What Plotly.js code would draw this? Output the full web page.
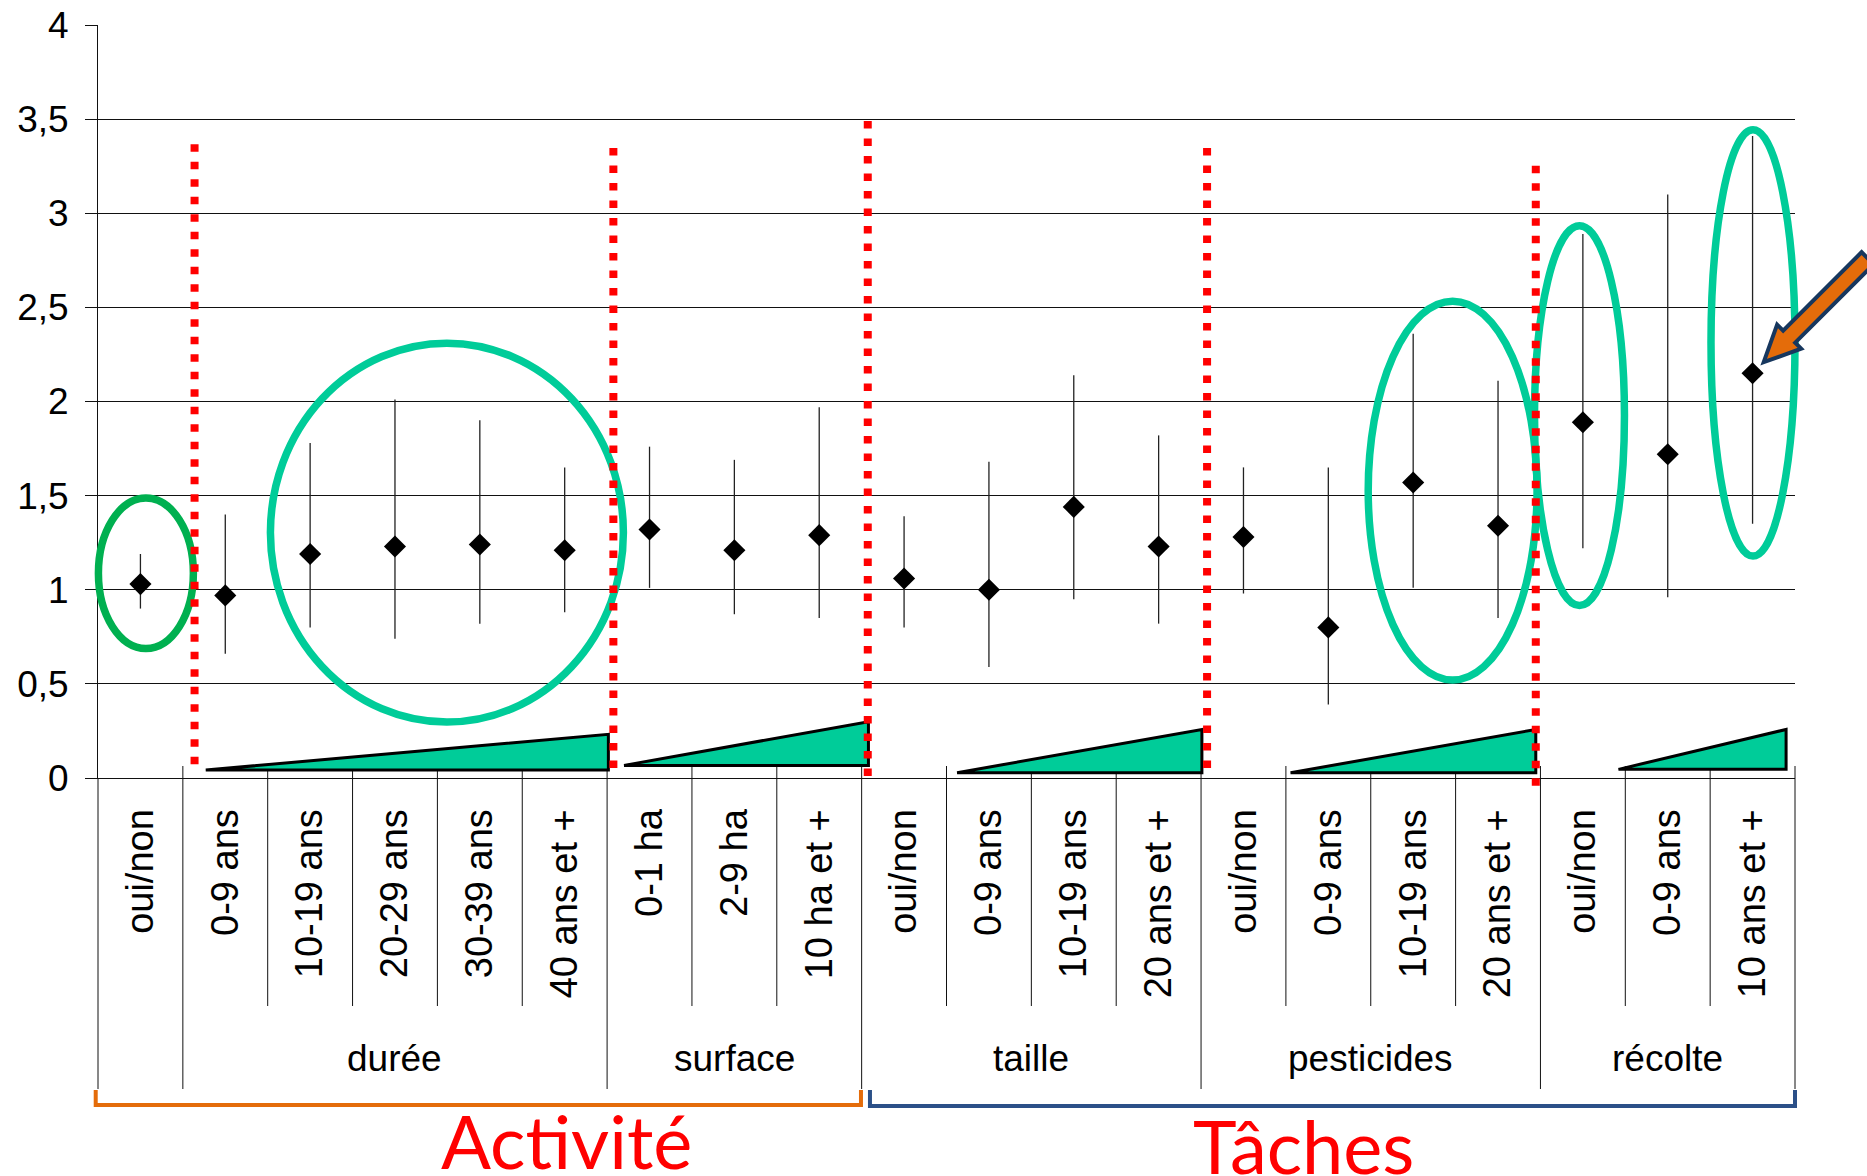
<!DOCTYPE html>
<html>
<head>
<meta charset="utf-8">
<script src="https://cdn.plot.ly/plotly-3.0.1.min.js"></script>
<style>html,body{margin:0;padding:0;background:#fff;}#chart{width:1867px;height:1176px;}</style>
</head>
<body>
<div id="chart"></div>
<script>
// ---- data ----
const categories = ['oui/non','0-9 ans','10-19 ans','20-29 ans','30-39 ans','40 ans et +',
  '0-1 ha','2-9 ha','10 ha et +',
  'oui/non','0-9 ans','10-19 ans','20 ans et +',
  'oui/non','0-9 ans','10-19 ans','20 ans et +',
  'oui/non','0-9 ans','10 ans et +'];
const oddsRatio = [1.03, 0.97, 1.19, 1.23, 1.24, 1.21, 1.32, 1.21, 1.29, 1.06, 1.00, 1.44, 1.23, 1.28, 0.80, 1.57, 1.34, 1.89, 1.72, 2.15];
const ciUpper   = [1.19, 1.40, 1.78, 2.01, 1.90, 1.65, 1.76, 1.69, 1.97, 1.39, 1.68, 2.14, 1.82, 1.65, 1.65, 2.36, 2.11, 2.89, 3.10, 3.41];
const ciLower   = [0.90, 0.66, 0.80, 0.74, 0.82, 0.88, 1.01, 0.87, 0.85, 0.80, 0.59, 0.95, 0.82, 0.98, 0.39, 1.01, 0.85, 1.22, 0.96, 1.35];
const groupLabels = ['durée','surface','taille','pesticides','récolte'];
const groupFirst  = [1, 6, 9, 13, 17];
const groupLast   = [5, 8, 12, 16, 19];
const sectionLabels = ['Activité','Tâches'];
const yTickVals = [0,0.5,1,1.5,2,2.5,3,3.5,4];

// ---- layout geometry ----
const W=1867, H=1176, ML=98, MR=72, MT=25, MB=398;
const PW=W-ML-MR, PH=H-MT-MB;
const XR=[-0.5, categories.length-0.5], YR=[0,4];
const xp = x => (x-XR[0])/(XR[1]-XR[0]);        // data x -> paper
const yp = v => (v-YR[0])/(YR[1]-YR[0]);        // data y -> paper
const pyp = py => (H-MB-py)/PH;                  // pixel y -> paper
const dxp = d => d/PW, dyp = d => d/PH;          // pixel offsets -> paper

const idx = categories.map((_,i)=>i);
const trace = {
  type:'scatter', mode:'markers', x: idx, y: oddsRatio,
  marker:{symbol:'diamond', size:17, color:'#000'},
  error_y:{type:'data', symmetric:false,
    array: ciUpper.map((u,i)=>u-oddsRatio[i]),
    arrayminus: ciLower.map((l,i)=>oddsRatio[i]-l),
    color:'#222', thickness:1.3, width:0},
  hoverinfo:'skip', showlegend:false, cliponaxis:false
};

const shapes = [];
// category dividers below the axis
const groupBounds = [-0.5, 0.5, 5.5, 8.5, 12.5, 16.5, 19.5];
for (let b=-0.5; b<=XR[1]+1e-9; b+=1) {
  const isGroup = groupBounds.some(g=>Math.abs(g-b)<1e-6);
  shapes.push({type:'line', xref:'paper', yref:'paper', layer:'below',
    x0:xp(b), x1:xp(b), y0: b===-0.5 ? 0 : pyp(766), y1: isGroup ? pyp(1089) : pyp(1006),
    line:{color:'#111', width:1}});
}
// green wedges
const wedges = [[0.77,5.515,0.042,0.232],[5.70,8.58,0.067,0.299],[9.625,12.51,0.028,0.258],[13.555,16.445,0.028,0.258],[17.42,19.395,0.046,0.258]];
wedges.forEach(w=>{
  shapes.push({type:'path', xref:'paper', yref:'paper',
    path:`M ${xp(w[0])} ${yp(w[2])} L ${xp(w[1])} ${yp(w[2])} L ${xp(w[1])} ${yp(w[3])} Z`,
    fillcolor:'#00CC99', line:{color:'#000', width:3}});
});
// ellipses
const ellipses = [[-0.495,0.624,0.688,1.487,'#00B050'],[1.532,5.692,0.297,2.31,'#00CC99'],
  [14.47,16.46,0.52,2.533,'#00CC99'],[16.43,17.49,0.916,2.934,'#00CC99'],[18.51,19.5,1.179,3.444,'#00CC99']];
ellipses.forEach(e=>{
  shapes.push({type:'circle', xref:'paper', yref:'paper',
    x0:xp(e[0]), x1:xp(e[1]), y0:yp(e[2]), y1:yp(e[3]),
    line:{color:e[4], width:7.5}});
});
// red dotted separators
const redLines = [[0.638,0.073,3.367],[5.574,0.046,3.347],[8.572,-0.016,3.49],[12.571,0.046,3.347],[16.445,-0.046,3.252]];
redLines.forEach(r=>{
  shapes.push({type:'line', xref:'paper', yref:'paper',
    x0:xp(r[0]), x1:xp(r[0]), y0:yp(r[2]), y1:yp(r[1]),
    line:{color:'#FF0000', width:8, dash:'7.5px,10px'}});
});
// brackets
shapes.push({type:'path', xref:'paper', yref:'paper',
  path:`M ${xp(-0.527)} ${pyp(1090)} L ${xp(-0.527)} ${pyp(1105)} L ${xp(8.492)} ${pyp(1105)} L ${xp(8.492)} ${pyp(1090)}`,
  line:{color:'#E46C0A', width:4}});
shapes.push({type:'path', xref:'paper', yref:'paper',
  path:`M ${xp(8.598)} ${pyp(1090)} L ${xp(8.598)} ${pyp(1106)} L ${xp(19.5)} ${pyp(1106)} L ${xp(19.5)} ${pyp(1090)}`,
  line:{color:'#2B5088', width:4}});
// block arrow pointing at the last point
(function(){
  const i = categories.length-1;
  const tx = xp(i)*PW + 9, ty = (1-yp(oddsRatio[i]))*PH - 9;  // pixel offset inside plot
  const r = Math.SQRT1_2;
  const pt = (s,t) => { const x = tx + s*r + t*r, y = ty - s*r + t*r; return `${dxp(x)} ${1-dyp(y)}`; };
  const pts = [[3,0],[39,17],[39,8.5],[150,8.5],[150,-8.5],[39,-8.5],[39,-17]];
  shapes.push({type:'path', xref:'paper', yref:'paper',
    path:'M '+pts.map(p=>pt(p[0],p[1])).join(' L ')+' Z',
    fillcolor:'#E46C0A', line:{color:'#17375E', width:4}});
})();

const annotations = [];
groupLabels.forEach((g,k)=>{
  annotations.push({xref:'paper', yref:'paper', x:xp((groupFirst[k]+groupLast[k])/2), y:pyp(1058),
    text:g, showarrow:false, xanchor:'center', yanchor:'middle',
    font:{family:'Liberation Sans, Arial, sans-serif', size:37, color:'#000'}});
});
annotations.push({xref:'paper', yref:'paper', x:xp(5.026), y:pyp(1140), text:sectionLabels[0], showarrow:false,
  xanchor:'center', yanchor:'middle', font:{family:'Lato, sans-serif', size:74, color:'#FF0000'}});
annotations.push({xref:'paper', yref:'paper', x:xp(13.706), y:pyp(1145), text:sectionLabels[1], showarrow:false,
  xanchor:'center', yanchor:'middle', font:{family:'Lato, sans-serif', size:74, color:'#FF0000'}});

const layout = {
  width:W, height:H, margin:{l:ML, r:MR, t:MT, b:MB, pad:0},
  paper_bgcolor:'#fff', plot_bgcolor:'#fff', separators:', ',
  showlegend:false,
  font:{family:'Liberation Sans, Arial, sans-serif', color:'#000'},
  xaxis:{range:XR, tickmode:'array', tickvals:idx, ticktext:categories, tickangle:-90,
    tickfont:{size:38, color:'#000'}, showgrid:false, zeroline:false, showline:true,
    linecolor:'#111', linewidth:1, ticks:'', ticklabelstandoff:15, automargin:false, fixedrange:true},
  yaxis:{range:YR, tickmode:'array', tickvals:yTickVals, showgrid:true, gridcolor:'#111', gridwidth:1,
    zeroline:false, showline:true, linecolor:'#111', linewidth:1, ticks:'outside', ticklen:12,
    tickcolor:'#111', tickfont:{size:37, color:'#000'}, ticklabelstandoff:9, automargin:false, fixedrange:true},
  shapes:shapes, annotations:annotations
};
Plotly.newPlot('chart', [trace], layout, {staticPlot:true, displayModeBar:false});
</script>
</body>
</html>
